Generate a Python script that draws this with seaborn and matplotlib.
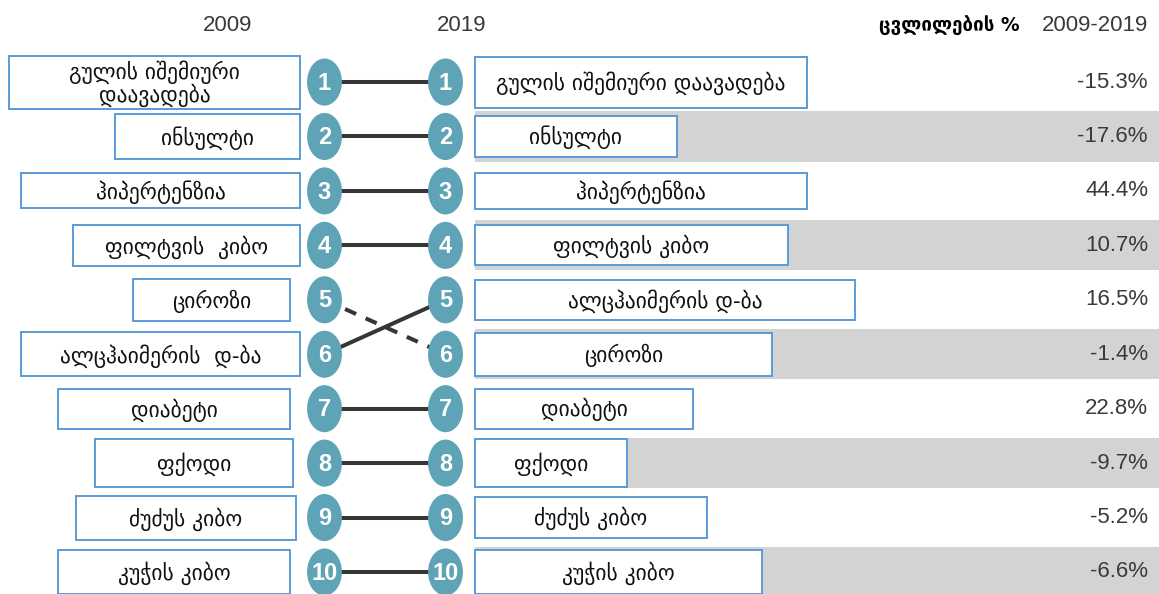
import numpy as np
import pandas as pd
import matplotlib
matplotlib.use("Agg")
import matplotlib.pyplot as plt
from matplotlib.patches import Rectangle
from matplotlib.path import Path
from matplotlib.transforms import Affine2D
import seaborn as sns

# data: top 10 causes, rank in 2009 and 2019, change in %
diseases = ['გულის იშემიური დაავადება', 'ინსულტი', 'ჰიპერტენზია', 'ფილტვის კიბო',
            'ციროზი', 'ალცჰაიმერის დ-ბა', 'დიაბეტი', 'ფქოდი', 'ძუძუს კიბო', 'კუჭის კიბო']
labels_2009 = ['გულის იშემიური\nდაავადება', 'ინსულტი', 'ჰიპერტენზია', 'ფილტვის  კიბო',
               'ციროზი', 'ალცჰაიმერის  დ-ბა', 'დიაბეტი', 'ფქოდი', 'ძუძუს კიბო', 'კუჭის კიბო']
rank_2009 = [1, 2, 3, 4, 5, 6, 7, 8, 9, 10]
rank_2019 = [1, 2, 3, 4, 6, 5, 7, 8, 9, 10]
change_pct = [-15.3, -17.6, 44.4, 10.7, -1.4, 16.5, 22.8, -9.7, -5.2, -6.6]
years = ['2009', '2019']

# layout (figure is laid out on a 1159 px wide canvas, one row per rank)
X_L, X_R = 324.5, 445.5
left_box = [(9, 300), (115, 300), (21, 300), (73, 300), (133, 290),
            (21, 300), (58, 290), (95, 293), (76, 296), (58, 290)]      # by 2009 rank
left_h = [53, 44, 35, 41, 42, 44, 40, 48, 44, 44]
right_box = [807, 677, 807, 788, 855, 772, 693, 627, 707, 762]         # by 2019 rank
right_h = [51, 40, 36, 40, 40, 43, 40, 48, 41, 44]
ROW = 54.4

sns.set_theme(style='white')
plt.rcParams['font.family'] = ['DejaVu Sans']
narrow = ['Liberation Sans Narrow', 'Liberation Sans', 'DejaVu Sans']

fig = plt.figure(figsize=(11.59, 5.94), dpi=100)
ax = fig.add_axes([0, 0, 1, 1])
ax.set_xlim(0, 1159)
ax.set_ylim(10 + 22 / ROW, 1 - 82 / ROW)
ax.axis('off')

px = lambda p: p / ROW  # pixel height -> rank units

# grey bands on even rows of the 2019 column
for r in range(2, 11, 2):
    ax.add_patch(Rectangle((475, r - px(25)), 1159 - 475, px(50),
                           facecolor='#d3d3d3', edgecolor='none', zorder=0))

# connectors
df = pd.DataFrame({
    'disease': diseases * 2,
    'x': [X_L] * 10 + [X_R] * 10,
    'rank': rank_2009 + rank_2019,
    'trend': ['down' if b > a else 'same' for a, b in zip(rank_2009, rank_2019)] * 2,
})
sns.lineplot(data=df, x='x', y='rank', units='disease', estimator=None, style='trend',
             dashes={'same': '', 'down': (3, 2.6)}, color='#363636', lw=2.9,
             legend=False, ax=ax, zorder=2)

# rank circles (slightly taller than wide)
oval = Path.unit_circle().transformed(Affine2D().scale(0.74, 1.0))
circ = pd.DataFrame({'x': [X_L] * 10 + [X_R] * 10, 'rank': rank_2009 + sorted(rank_2019)})
sns.scatterplot(data=circ, x='x', y='rank', marker=oval, s=1150, color='#5fa3b6',
                edgecolor='none', ax=ax, zorder=3, legend=False)
for x, r in zip(circ['x'], circ['rank']):
    ax.text(x, r + 0.02, str(r), ha='center', va='center', color='white', fontsize=17,
            fontweight='bold', family=narrow, zorder=4)
ax.set_xlabel('')
ax.set_ylabel('')

# 2009 labels
for i, lab in enumerate(labels_2009):
    r = rank_2009[i]
    l, rr = left_box[r - 1]
    h = px(left_h[r - 1])
    ax.add_patch(Rectangle((l, r - h / 2), rr - l, h, facecolor='white',
                           edgecolor='#5b9bd5', lw=1.4, zorder=1))
    ax.text((l + rr) / 2, r + 0.03, lab, ha='center', va='center', fontsize=15.5,
            color='#111111', linespacing=1.0, zorder=2)

# 2019 labels and change
for i, lab in enumerate(diseases):
    r = rank_2019[i]
    rr = right_box[r - 1]
    h = px(right_h[r - 1])
    ax.add_patch(Rectangle((475, r - h / 2), rr - 475, h, facecolor='white',
                           edgecolor='#5b9bd5', lw=1.4, zorder=1))
    ax.text((475 + rr) / 2, r + 0.02, lab, ha='center', va='center', fontsize=15.5,
            color='#111111', zorder=2)
    ax.text(1148, r, f'{change_pct[i]:.1f}%', ha='right', va='center', fontsize=16,
            color='#3a3a3a', family=narrow, zorder=2)

# headers
hy = 1 - (82 - 25) / ROW
ax.text(228, hy, years[0], ha='center', va='center', fontsize=16, color='#3a3a3a', family=narrow)
ax.text(462, hy, years[1], ha='center', va='center', fontsize=16, color='#3a3a3a', family=narrow)
ax.text(1020, hy, 'ცვლილების %', ha='right', va='center', fontsize=13.5,
        fontweight='bold', color='black')
ax.text(1148, hy, f'{years[0]}-{years[1]}', ha='right', va='center', fontsize=16,
        color='#3a3a3a', family=narrow)

fig.savefig('out.png', dpi=100)
